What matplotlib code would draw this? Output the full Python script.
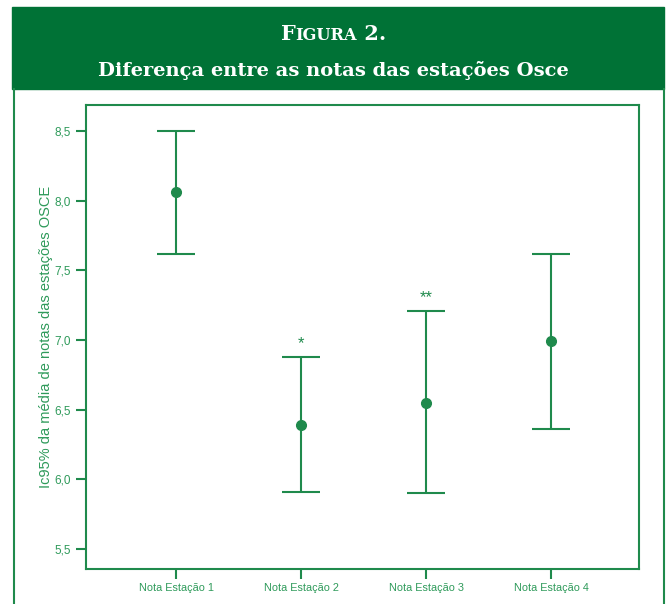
import matplotlib.pyplot as plt
from matplotlib.lines import Line2D
from matplotlib.patches import Rectangle

# data
stations = ['Nota Estação 1', 'Nota Estação 2', 'Nota Estação 3', 'Nota Estação 4']
means = [8.06, 6.39, 6.55, 6.99]
upper = [8.50, 6.88, 7.21, 7.62]
lower = [7.62, 5.91, 5.90, 6.36]
marks = ['', '*', '**', '']
yticks = [5.5, 6.0, 6.5, 7.0, 7.5, 8.0, 8.5]

green = '#1f8a4c'
text_green = '#2e9a5a'
header_green = '#007236'
serif = 'DejaVu Serif'

plt.rcParams['font.family'] = 'Liberation Sans'

W, H = 667, 604
fig = plt.figure(figsize=(W / 100, H / 100), dpi=100)

# header band
fig.patches.append(Rectangle((12 / W, 1 - 89 / H), (664 - 12) / W, 82 / H,
                             transform=fig.transFigure, color=header_green, zorder=0))

# "Figura 2." in small caps, pieces placed one after another
pieces = [('F', 15), ('IGURA', 11.7), (' 2.', 15)]
base = 1 - 40 / H
texts = [fig.text(0, base, s, color='white', fontsize=fs, family=serif,
                  weight='bold', ha='left', va='baseline') for s, fs in pieces]
fig.canvas.draw()
r = fig.canvas.get_renderer()
widths = [t.get_window_extent(r).width for t in texts]
x0 = (W - sum(widths)) / 2
for t, w in zip(texts, widths):
    t.set_x(x0 / W)
    x0 += w

fig.text(0.5, 1 - 76 / H, 'Diferença entre as notas das estações Osce', color='white',
         fontsize=14, family=serif, weight='bold', ha='center', va='baseline')

# outer frame lines
for x in (14, 664):
    fig.lines.append(Line2D([x / W, x / W], [0, 1 - 89 / H], transform=fig.transFigure,
                            color=green, lw=1.5))

ax = fig.add_axes([86 / W, 1 - 569 / H, (639 - 86) / W, (569 - 105) / H])

x = range(1, len(stations) + 1)
yerr = [[m - lo for m, lo in zip(means, lower)], [u - m for m, u in zip(means, upper)]]
ax.errorbar(x, means, yerr=yerr, fmt='o', color=green, ms=7, elinewidth=1.5,
            capsize=14, capthick=1.5)

for xi, u, s in zip(x, upper, marks):
    if s:
        ax.text(xi, u + 0.04, s, color=green, ha='center', va='bottom', fontsize=12)

ax.set_xlim(0.28, 4.704)
ax.set_ylim(5.357, 8.687)
ax.set_xticks(list(x))
ax.set_xticklabels(stations)
ax.set_yticks(yticks)
ax.set_yticklabels([f'{v:.1f}'.replace('.', ',') for v in yticks])
ax.tick_params(colors=green, labelcolor=text_green, labelsize=8.5, width=1.5, length=7)
ax.tick_params(axis='x', labelsize=7.8, pad=3)
ax.tick_params(axis='y', pad=4)
for sp in ax.spines.values():
    sp.set_color(green)
    sp.set_linewidth(1.5)

ax.set_ylabel('Ic95% da média de notas das estações OSCE', color=text_green,
              fontsize=10.5, labelpad=1)

fig.savefig('out.png', dpi=100)
